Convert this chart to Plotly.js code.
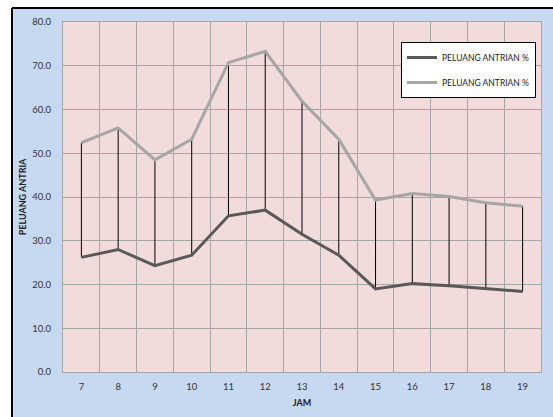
<!DOCTYPE html>
<html>
<head>
<meta charset="utf-8">
<script src="https://cdn.plot.ly/plotly-3.0.1.min.js"></script>
<style>html,body{margin:0;padding:0;background:#fff;}#chart{width:553px;height:417px;}</style>
</head>
<body>
<div id="chart"></div>
<script>
// Data
const jam = [7, 8, 9, 10, 11, 12, 13, 14, 15, 16, 17, 18, 19];
const peluangBawah = [26.2, 28.0, 24.3, 26.7, 35.7, 37.0, 31.5, 26.7, 19.0, 20.2, 19.7, 19.0, 18.4];
const peluangAtas = [52.4, 55.8, 48.5, 53.2, 70.7, 73.3, 61.9, 53.2, 39.3, 40.8, 40.1, 38.7, 37.9];
const seriesName = "PELUANG ANTRIAN %";
const xTitle = "JAM";
const yTitle = "PELUANG ANTRIA";

// high-low lines built from data
const hlX = [], hlY = [];
jam.forEach((j, i) => { hlX.push(j, j, null); hlY.push(peluangBawah[i], peluangAtas[i], null); });

// category boundaries for vertical gridlines
const bounds = jam.map(j => j - 0.5).concat([jam[jam.length - 1] + 0.5]);

const FONT = "Lato, 'Liberation Sans', sans-serif";

const traces = [
  {x: hlX, y: hlY, mode: 'lines', line: {color: '#000000', width: 1}, showlegend: false, hoverinfo: 'skip'},
  {x: jam, y: peluangBawah, mode: 'lines', name: seriesName, line: {color: '#595959', width: 3}, legendgroup: 'a'},
  {x: jam, y: peluangAtas, mode: 'lines', name: seriesName, line: {color: '#a6a6a6', width: 3}, legendgroup: 'b'},
  {x: [bounds[0]], y: [null], xaxis: 'x2', showlegend: false, hoverinfo: 'skip'}
];

const gridC = '#a6a6a6';
const layout = {
  width: 553, height: 417,
  margin: {l: 63, r: 12, t: 22, b: 45},
  paper_bgcolor: '#c6d9f1',
  plot_bgcolor: '#f2dcdb',
  font: {family: FONT, size: 9, color: '#333333'},
  showlegend: true,
  xaxis: {
    range: [bounds[0], bounds[bounds.length - 1]],
    tickmode: 'array', tickvals: jam, ticktext: jam.map(String),
    showgrid: false, zeroline: false, ticks: '',
    showline: true, linecolor: gridC, linewidth: 1, mirror: true,
    ticklabelstandoff: 6,
    tickfont: {family: FONT, size: 9.5, color: '#333333'},
    title: {text: xTitle, font: {family: FONT, size: 9, color: '#222', weight: 'bold'}, standoff: 8}
  },
  xaxis2: {
    overlaying: 'x', range: [bounds[0], bounds[bounds.length - 1]],
    tickmode: 'array', tickvals: bounds, showticklabels: false,
    showgrid: true, gridcolor: gridC, gridwidth: 1, zeroline: false, ticks: ''
  },
  yaxis: {
    range: [0, 80], dtick: 10, tick0: 0, tickformat: '.1f',
    showgrid: true, gridcolor: gridC, gridwidth: 1, zeroline: false,
    showline: true, linecolor: gridC, linewidth: 1, mirror: true,
    ticks: '', ticklabelstandoff: 9,
    tickfont: {family: FONT, size: 9.5, color: '#333333'},
    title: {text: yTitle, font: {family: FONT, size: 9, color: '#222', weight: 'bold'}, standoff: 4}
  },
  legend: {
    x: (536 - 63) / 478, xanchor: 'right', y: (372 - 42) / 350, yanchor: 'top',
    bgcolor: '#ffffff', bordercolor: '#000000', borderwidth: 1,
    font: {family: FONT, size: 8.5, color: '#222'},
    traceorder: 'grouped', tracegroupgap: 6
  },
  shapes: [
    {type: 'rect', xref: 'paper', yref: 'paper', x0: -0.2, x1: (12 - 63) / 478, y0: -0.3, y1: 1.2, fillcolor: '#ffffff', line: {width: 0}, layer: 'below'},
    {type: 'rect', xref: 'paper', yref: 'paper', x0: -0.2, x1: 1.2, y0: (372 - 8) / 350, y1: 1.2, fillcolor: '#ffffff', line: {width: 0}, layer: 'below'},
    {type: 'line', xref: 'paper', yref: 'paper', x0: (12 - 63) / 478, x1: (12 - 63) / 478, y0: -0.3, y1: (372 - 8) / 350, line: {color: '#000', width: 2}},
    {type: 'line', xref: 'paper', yref: 'paper', x0: (12 - 63) / 478, x1: 1.2, y0: (372 - 8) / 350, y1: (372 - 8) / 350, line: {color: '#000', width: 2}}
  ]
};

Plotly.newPlot('chart', traces, layout, {displayModeBar: false, staticPlot: true});
</script>
</body>
</html>
